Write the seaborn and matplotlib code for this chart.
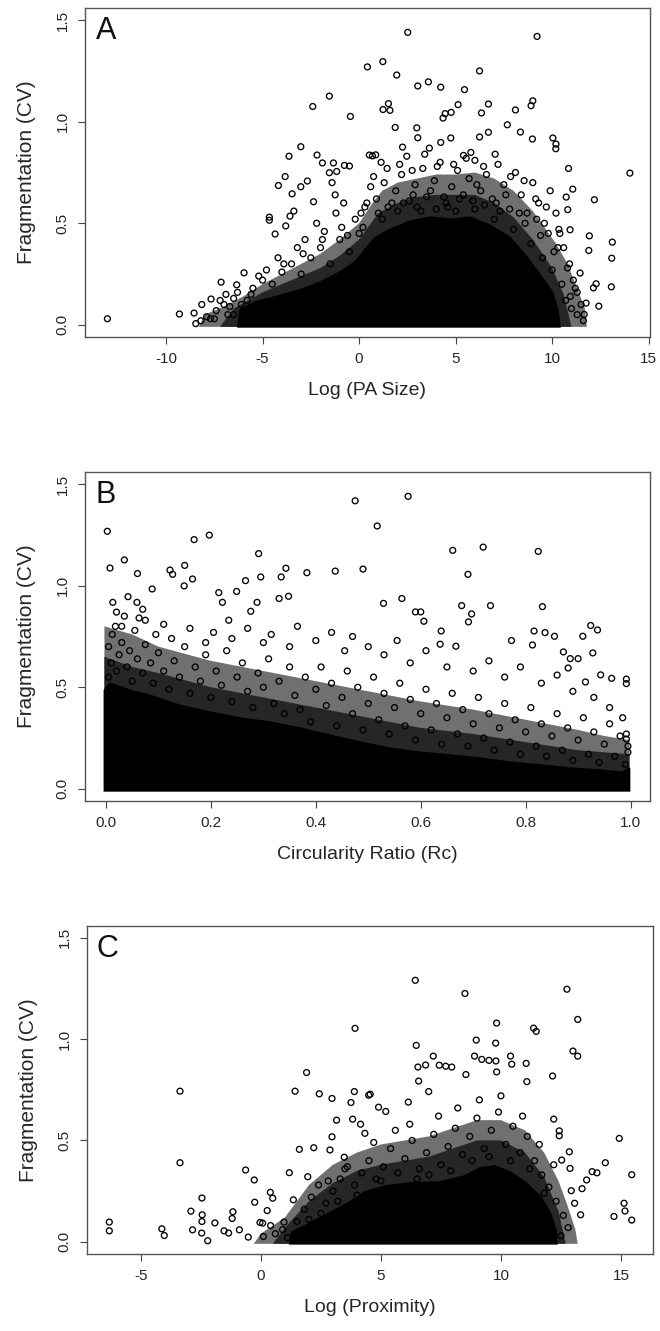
import numpy as np
import matplotlib
matplotlib.use("Agg")
import matplotlib.pyplot as plt
import seaborn as sns

sns.set_style("white")
plt.rcParams['font.family'] = ['Liberation Sans', 'DejaVu Sans']

# ---------------- panel A : Log (PA Size) ----------------
a_x = [-13.04, -9.31, -8.55, -8.46, -8.15, -7.67, -7.15, -6.34, -5.96, -4.65, -4.65, -4.35, -4.18, -3.83,
       -3.63, -3.80, -3.58, -3.47, -3.02, -3.02, -2.68, -2.40, -2.18, -1.90, -1.54, -1.33, -1.54, -1.16,
       -0.76, -0.50, -0.45, 0.43, 0.53, -1.40, -1.24, -2.36, -3.38,
       2.52, 9.22, 1.23, 1.95, 3.04, 3.59, 4.23, 5.46, 6.24, 1.24, 1.52, 1.60, 1.87, 2.99, 3.04, 4.35,
       4.46, 4.77, 5.13, 6.34, 6.70, 8.10, 7.68, 8.91, 9.00, 8.36, 8.98, 10.04, 10.20, 10.19, 10.85,
       11.07, 12.19, 14.03, 10.81, 10.73, 10.93, 11.93, 11.90, 13.12, 13.09, 13.07, 12.14, 12.28, 12.42,
       11.66, 11.62, 11.76, 11.45, 0.86, 0.69, 1.14, 0.40, 2.47, 2.25, 3.64, 4.23, 4.75, 5.41, 5.79,
       6.24, 6.70,
       0.9, 1.3, 1.5, 1.9, 2.2, 2.6, 2.9, 3.3, 3.5, 3.9, 4.2, 4.5, 4.8, 5.1, 5.4, 5.7, 6.0, 6.3, 6.6,
       6.9, 7.2, 7.5, 7.8, 8.1, 8.4, 8.7, 9.0, 9.3, 9.6, 9.9, 10.2, 10.4, 10.6, 10.9, 11.1, 11.3, 10.7,
       11.0, 1.2, 2.0, 3.0, 4.0, 5.0, 6.0, 7.0, 8.0, 8.9, 9.5, 10.0, 10.5,
       -5.5, -5.0, -4.5, -4.0, -3.5, -3.0, -2.5, -2.0, -1.5, -1.0, -0.5, 0.0, -7.0, -6.5, -6.8, -7.5,
       -5.8, -2.8, -2.2, -1.8, -1.2, -0.8, -0.2, 0.3, 0.6, -3.2, -4.2,
       -7.9, -7.4, -6.7, -6.5, -7.2, -6.9, -6.1, -5.6, -8.2, -7.7,
       1.7, 2.8, 3.7, 4.4, 5.2, 6.1, 7.1, 7.6, 8.3, 9.2, 9.8, 10.3, 0.2, -0.6, 1.0, 2.3, 3.2, 4.6,
       5.9, 6.5, 7.3, 8.6, 9.4, 10.1, 10.8, 11.2, 11.5, 11.3, 10.95,
       0.75, 1.45, 2.1, 2.75, 3.4, 4.05, 4.9, 5.55, 6.45, 7.05, 7.85, 8.55, 9.15, 9.7, 10.35,
       -4.8, -3.9, -2.9, -1.9, -0.9, 0.1, -6.3, -5.2]
a_y = [0.030, 0.053, 0.058, 0.006, 0.100, 0.127, 0.210, 0.197, 0.256, 0.530, 0.515, 0.447, 0.686, 0.730,
       0.830, 0.487, 0.535, 0.645, 0.877, 0.680, 0.708, 1.075, 0.836, 0.797, 1.126, 0.797, 0.749, 0.755,
       0.785, 0.782, 1.026, 1.270, 0.836, 0.700, 0.640, 0.606, 0.560,
       1.440, 1.420, 1.296, 1.230, 1.176, 1.196, 1.170, 1.158, 1.250, 1.060, 1.089, 1.056, 0.972, 0.970,
       0.921, 1.018, 1.040, 1.046, 1.084, 1.043, 1.087, 1.058, 0.985, 1.079, 1.103, 0.949, 0.915, 0.920,
       0.890, 0.867, 0.770, 0.668, 0.616, 0.747, 0.567, 0.629, 0.468, 0.438, 0.366, 0.407, 0.328, 0.187,
       0.182, 0.202, 0.092, 0.051, 0.021, 0.107, 0.255, 0.837, 0.832, 0.800, 0.600, 0.830, 0.875, 0.870,
       0.898, 0.920, 0.834, 0.849, 0.925, 0.948,
       0.62, 0.70, 0.58, 0.66, 0.74, 0.61, 0.69, 0.77, 0.63, 0.71, 0.80, 0.60, 0.68, 0.76, 0.64, 0.72,
       0.81, 0.66, 0.74, 0.62, 0.79, 0.69, 0.57, 0.75, 0.64, 0.55, 0.70, 0.60, 0.50, 0.66, 0.55, 0.45,
       0.38, 0.30, 0.22, 0.16, 0.12, 0.08, 0.52, 0.56, 0.58, 0.57, 0.56, 0.57, 0.52, 0.47, 0.40, 0.33,
       0.27, 0.20,
       0.18, 0.22, 0.20, 0.26, 0.30, 0.25, 0.33, 0.38, 0.30, 0.42, 0.36, 0.45, 0.10, 0.13, 0.05, 0.03,
       0.12, 0.42, 0.50, 0.46, 0.55, 0.60, 0.52, 0.58, 0.68, 0.38, 0.33,
       0.04, 0.07, 0.09, 0.05, 0.12, 0.15, 0.10, 0.15, 0.02, 0.03,
       0.60, 0.64, 0.66, 0.63, 0.62, 0.69, 0.60, 0.64, 0.55, 0.52, 0.45, 0.38, 0.48, 0.44, 0.55, 0.60,
       0.56, 0.58, 0.61, 0.59, 0.56, 0.50, 0.44, 0.36, 0.28, 0.18, 0.10, 0.05, 0.14,
       0.73, 0.77, 0.79, 0.76, 0.84, 0.78, 0.79, 0.82, 0.78, 0.84, 0.73, 0.71, 0.62, 0.58, 0.47,
       0.27, 0.30, 0.35, 0.42, 0.48, 0.55, 0.16, 0.24]
a_outer_x = [-8.3, -8.0, -7.0, -6.0, -5.0, -4.0, -3.0, -2.0, -1.0, 0.0, 0.7, 1.2, 2.0, 3.0, 4.0, 5.0,
             6.0, 7.0, 8.0, 9.0, 9.6, 10.2, 10.8, 11.3, 11.7, 11.8]
a_outer_y = [-0.01, 0.05, 0.09, 0.14, 0.20, 0.25, 0.30, 0.35, 0.42, 0.50, 0.60, 0.66, 0.70, 0.72, 0.74,
             0.74, 0.75, 0.72, 0.66, 0.56, 0.48, 0.40, 0.30, 0.18, 0.08, -0.01]
a_mid_x = [-7.2, -6.5, -5.0, -4.0, -3.0, -2.0, -1.0, 0.0, 1.0, 2.0, 3.0, 4.0, 5.0, 6.0, 7.0, 8.0, 9.0,
           10.0, 10.6, 11.0]
a_mid_y = [-0.01, 0.08, 0.16, 0.20, 0.24, 0.28, 0.34, 0.42, 0.55, 0.60, 0.63, 0.64, 0.64, 0.64, 0.60,
           0.53, 0.42, 0.28, 0.15, -0.01]
a_core_x = [-6.27, -6.17, -5.39, -4.35, -3.06, -2.02, -0.98, -0.21, 0.31, 0.83, 1.61, 2.64, 3.68, 4.72,
            5.75, 6.79, 7.82, 8.60, 9.38, 10.00, 10.30, 10.40]
a_core_y = [-0.01, 0.074, 0.113, 0.138, 0.172, 0.210, 0.260, 0.310, 0.370, 0.430, 0.470, 0.510, 0.530,
            0.520, 0.530, 0.490, 0.430, 0.345, 0.246, 0.163, 0.074, -0.01]

# ---------------- panel B : Circularity Ratio ----------------
b_x = [0.0025, 0.0076, 0.035, 0.060, 0.013, 0.042, 0.059, 0.070, 0.063, 0.088, 0.122, 0.127, 0.150,
       0.149, 0.165, 0.168, 0.197, 0.215, 0.222, 0.249, 0.266, 0.291, 0.295, 0.288, 0.276, 0.234, 0.334,
       0.343, 0.330, 0.348, 0.383, 0.437, 0.475, 0.490,
       0.576, 0.517, 0.661, 0.719, 0.824, 0.690, 0.678, 0.697, 0.691, 0.733, 0.832, 0.564, 0.590, 0.600,
       0.606, 0.529, 0.639, 0.637, 0.667, 0.773, 0.813, 0.816, 0.837, 0.855, 0.909, 0.924, 0.937, 0.872,
       0.885, 0.900, 0.881, 0.928, 0.914, 0.943, 0.964, 0.992, 0.992, 0.992, 0.992,
       0.005, 0.010, 0.005, 0.012, 0.020, 0.025, 0.030, 0.018, 0.040, 0.045, 0.050, 0.035, 0.060, 0.070,
       0.075, 0.085, 0.090, 0.100, 0.110, 0.120, 0.130, 0.140, 0.150, 0.160, 0.170, 0.180, 0.190, 0.200,
       0.210, 0.220, 0.230, 0.240, 0.250, 0.260, 0.270, 0.280, 0.290, 0.300, 0.310, 0.320, 0.330, 0.340,
       0.350, 0.360, 0.370, 0.380, 0.390, 0.400, 0.410, 0.420, 0.430, 0.440, 0.450, 0.460, 0.470, 0.480,
       0.490, 0.500, 0.510, 0.520, 0.530, 0.540, 0.550, 0.560, 0.570, 0.580, 0.590, 0.600, 0.610, 0.620,
       0.630, 0.640, 0.650, 0.660, 0.670, 0.680, 0.690, 0.700, 0.710, 0.720, 0.730, 0.740, 0.750, 0.760,
       0.770, 0.780, 0.790, 0.800, 0.810, 0.820, 0.830, 0.840, 0.850, 0.860, 0.870, 0.880, 0.890, 0.900,
       0.910, 0.920, 0.930, 0.940, 0.950, 0.960, 0.970, 0.980, 0.990, 0.995, 0.995,
       0.020, 0.030, 0.055, 0.075, 0.095, 0.110, 0.125, 0.160, 0.190, 0.205, 0.240, 0.270, 0.300, 0.315,
       0.350, 0.365, 0.400, 0.430, 0.455, 0.470, 0.500, 0.530, 0.555, 0.580, 0.610, 0.650, 0.700, 0.730,
       0.760, 0.790, 0.830, 0.860, 0.890, 0.930, 0.960, 0.985]
b_y = [1.268, 1.087, 1.127, 1.060, 0.918, 0.946, 0.918, 0.884, 0.841, 0.984, 1.077, 1.056, 1.100, 0.999,
       1.033, 1.227, 1.249, 0.966, 0.918, 0.972, 1.025, 1.158, 1.043, 0.918, 0.874, 0.830, 1.043, 1.086,
       0.937, 0.948, 1.064, 1.072, 1.418, 1.082,
       1.440, 1.294, 1.174, 1.190, 1.169, 1.056, 0.902, 0.861, 0.822, 0.902, 0.897, 0.937, 0.871, 0.871,
       0.825, 0.913, 0.777, 0.712, 0.702, 0.730, 0.708, 0.777, 0.769, 0.751, 0.751, 0.804, 0.782, 0.674,
       0.641, 0.641, 0.595, 0.669, 0.526, 0.561, 0.544, 0.540, 0.518, 0.270, 0.245,
       0.55, 0.62, 0.70, 0.76, 0.58, 0.66, 0.72, 0.80, 0.60, 0.68, 0.53, 0.85, 0.64, 0.57, 0.71, 0.62,
       0.52, 0.67, 0.58, 0.49, 0.63, 0.55, 0.70, 0.47, 0.60, 0.53, 0.66, 0.45, 0.58, 0.51, 0.68, 0.43,
       0.55, 0.62, 0.48, 0.40, 0.57, 0.50, 0.64, 0.42, 0.53, 0.37, 0.60, 0.46, 0.39, 0.55, 0.33, 0.49,
       0.60, 0.41, 0.52, 0.31, 0.45, 0.58, 0.37, 0.50, 0.29, 0.42, 0.55, 0.34, 0.47, 0.27, 0.40, 0.52,
       0.31, 0.44, 0.24, 0.37, 0.49, 0.29, 0.42, 0.22, 0.35, 0.47, 0.27, 0.39, 0.21, 0.32, 0.45, 0.25,
       0.37, 0.19, 0.30, 0.42, 0.23, 0.34, 0.17, 0.28, 0.40, 0.21, 0.32, 0.16, 0.26, 0.37, 0.19, 0.30,
       0.14, 0.24, 0.35, 0.17, 0.28, 0.13, 0.22, 0.32, 0.16, 0.26, 0.12, 0.18, 0.21,
       0.87, 0.80, 0.78, 0.83, 0.76, 0.81, 0.74, 0.79, 0.72, 0.77, 0.74, 0.79, 0.72, 0.76, 0.70, 0.80,
       0.73, 0.77, 0.68, 0.75, 0.70, 0.66, 0.73, 0.62, 0.68, 0.60, 0.58, 0.63, 0.55, 0.60, 0.52, 0.56,
       0.48, 0.45, 0.40, 0.35]
b_outer_x = [-0.003, -0.003, 0.05, 0.10, 0.20, 0.30, 0.40, 0.50, 0.60, 0.70, 0.80, 0.90, 0.95, 0.998,
             0.998]
b_outer_y = [-0.01, 0.80, 0.76, 0.70, 0.63, 0.58, 0.53, 0.48, 0.43, 0.39, 0.34, 0.29, 0.26, 0.24, -0.01]
b_mid_x = [-0.003, -0.003, 0.05, 0.10, 0.20, 0.30, 0.40, 0.50, 0.60, 0.70, 0.80, 0.90, 0.998, 0.998]
b_mid_y = [-0.01, 0.65, 0.60, 0.57, 0.50, 0.45, 0.40, 0.35, 0.30, 0.27, 0.23, 0.19, 0.17, -0.01]
b_core_x = [-0.003, -0.003, 0.008, 0.046, 0.084, 0.142, 0.199, 0.256, 0.313, 0.370, 0.427, 0.484, 0.541,
            0.598, 0.656, 0.713, 0.770, 0.827, 0.884, 0.941, 0.983, 0.998, 0.998]
b_core_y = [-0.01, 0.485, 0.520, 0.485, 0.460, 0.410, 0.377, 0.348, 0.328, 0.299, 0.264, 0.230, 0.200,
            0.180, 0.166, 0.151, 0.131, 0.117, 0.102, 0.092, 0.082, 0.102, -0.01]

# ---------------- panel C : Log (Proximity) ----------------
c_x = [-6.32, -6.32, -4.13, -4.03, -3.375, -3.375, -2.92, -2.46, -2.45, -2.46, -2.85, -2.47, -2.22,
       -1.92, -1.17, -1.20, -1.54, -1.35, -0.90, -0.53, -0.64, -0.28, -0.26, 0.39, 0.49, 0.26, -0.04,
       0.07, 0.10, 1.18, 1.42, 1.90, 2.43, 2.96, 3.89, 3.75, 3.92, 4.49, 3.15, 3.82, 4.15, 4.33, 2.96,
       2.875, 1.60, 2.20, 3.47, 1.95, 1.35, 0.96,
       6.43, 8.50, 12.75, 13.20, 13.00, 13.20, 9.82, 9.78, 8.97, 11.36, 11.47, 6.47, 12.15, 10.40, 10.45,
       11.05, 8.90, 9.20, 9.50, 9.79, 7.18, 6.86, 6.54, 7.43, 7.70, 7.95, 6.57, 8.54, 9.82, 11.08, 4.55,
       4.90, 5.20, 14.93, 15.45, 14.35, 13.80, 14.00, 13.38, 13.57, 12.88, 12.85, 12.53, 12.43, 12.43,
       12.20, 14.71, 15.13, 15.17, 15.45, 12.93, 13.07, 13.32, 6.99, 6.14,
       1.5, 1.8, 2.1, 2.4, 2.7, 3.0, 3.3, 3.6, 3.9, 4.2, 4.5, 4.8, 5.1, 5.4, 5.7, 6.0, 6.3, 6.6, 6.9,
       7.2, 7.5, 7.8, 8.1, 8.4, 8.7, 9.0, 9.3, 9.6, 9.9, 10.2, 10.5, 10.8, 11.1, 11.4, 11.7, 12.0, 12.3,
       12.6, 12.8, 12.5, 0.6, 0.9, 1.1, 0.4,
       5.0, 6.5, 7.0, 7.9, 8.8, 9.5, 10.4, 11.2, 11.8, 4.0, 3.2, 2.5, 2.0,
       5.6, 6.2, 7.4, 8.2, 9.1, 10.0, 10.9, 11.6, 12.2, 4.7, 3.5, 2.8]
c_y = [0.097, 0.054, 0.064, 0.031, 0.743, 0.390, 0.151, 0.216, 0.133, 0.100, 0.059, 0.043, 0.005, 0.093,
       0.148, 0.115, 0.054, 0.043, 0.059, 0.023, 0.354, 0.305, 0.195, 0.244, 0.215, 0.154, 0.095, 0.092,
       0.026, 0.341, 0.743, 0.835, 0.730, 0.707, 0.741, 0.687, 1.053, 0.723, 0.600, 0.605, 0.580, 0.535,
       0.518, 0.453, 0.456, 0.464, 0.417, 0.321, 0.207, 0.097,
       1.290, 1.225, 1.246, 1.097, 0.941, 0.916, 1.079, 0.980, 0.995, 1.054, 1.038, 0.969, 0.818, 0.916,
       0.876, 0.880, 0.916, 0.900, 0.895, 0.892, 0.916, 0.872, 0.862, 0.871, 0.866, 0.862, 0.793, 0.825,
       0.838, 0.790, 0.728, 0.664, 0.643, 0.510, 0.331, 0.390, 0.346, 0.340, 0.262, 0.305, 0.362, 0.444,
       0.403, 0.523, 0.547, 0.605, 0.125, 0.190, 0.152, 0.107, 0.252, 0.190, 0.133, 0.741, 0.689,
       0.10, 0.16, 0.22, 0.28, 0.19, 0.25, 0.31, 0.37, 0.28, 0.34, 0.40, 0.31, 0.37, 0.46, 0.34, 0.41,
       0.50, 0.36, 0.44, 0.53, 0.38, 0.47, 0.56, 0.43, 0.52, 0.61, 0.46, 0.55, 0.64, 0.48, 0.57, 0.44,
       0.52, 0.40, 0.33, 0.27, 0.20, 0.13, 0.07, 0.03, 0.04, 0.06, 0.02, 0.08,
       0.30, 0.31, 0.33, 0.35, 0.40, 0.42, 0.40, 0.36, 0.24, 0.23, 0.20, 0.14, 0.11,
       0.55, 0.58, 0.62, 0.66, 0.70, 0.72, 0.62, 0.48, 0.38, 0.49, 0.36, 0.30]
c_outer_x = [-0.3, 0.0, 1.0, 2.0, 3.0, 4.0, 5.0, 6.0, 7.0, 8.0, 9.0, 10.0, 11.0, 11.8, 12.4, 12.8, 13.1,
             13.2]
c_outer_y = [-0.01, 0.04, 0.12, 0.28, 0.38, 0.44, 0.48, 0.50, 0.52, 0.56, 0.60, 0.60, 0.55, 0.44, 0.30,
             0.17, 0.06, -0.01]
c_mid_x = [0.5, 1.0, 2.0, 3.0, 4.0, 5.0, 6.0, 7.0, 8.0, 9.0, 10.0, 11.0, 11.8, 12.4, 12.7]
c_mid_y = [-0.01, 0.07, 0.20, 0.29, 0.35, 0.38, 0.40, 0.42, 0.46, 0.50, 0.50, 0.44, 0.32, 0.15, -0.01]
c_core_x = [1.20, 1.29, 1.83, 2.46, 3.08, 3.71, 4.33, 5.17, 6.21, 7.46, 8.50, 9.12, 9.75, 10.38, 11.00,
            11.63, 12.04, 12.29, 12.33]
c_core_y = [-0.01, 0.049, 0.079, 0.118, 0.157, 0.197, 0.246, 0.275, 0.290, 0.295, 0.325, 0.364, 0.374,
            0.344, 0.295, 0.226, 0.148, 0.059, -0.01]

y_ticks = [0.0, 0.5, 1.0, 1.5]
y_labels = ["0.0", "0.5", "1.0", "1.5"]

panels = [
    ("A", a_x, a_y, (a_outer_x, a_outer_y), (a_mid_x, a_mid_y), (a_core_x, a_core_y),
     (-14.2, 15.07), [-10, -5, 0, 5, 10, 15], ["-10", "-5", "0", "5", "10", "15"],
     "Log (PA Size)", [0.1288, 0.7468, 0.856, 0.2472]),
    ("B", b_x, b_y, (b_outer_x, b_outer_y), (b_mid_x, b_mid_y), (b_core_x, b_core_y),
     (-0.04, 1.037), [0.0, 0.2, 0.4, 0.6, 0.8, 1.0], ["0.0", "0.2", "0.4", "0.6", "0.8", "1.0"],
     "Circularity Ratio (Rc)", [0.1288, 0.3982, 0.856, 0.2472]),
    ("C", c_x, c_y, (c_outer_x, c_outer_y), (c_mid_x, c_mid_y), (c_core_x, c_core_y),
     (-7.25, 16.32), [-5, 0, 5, 10, 15], ["-5", "0", "5", "10", "15"],
     "Log (Proximity)", [0.1318, 0.0579, 0.857, 0.2467]),
]

fig = plt.figure(figsize=(6.6, 13.31), dpi=100)
fig.patch.set_facecolor("white")

for letter, px, py, outer, mid, core, xlim, xt, xtl, xlab, rect in panels:
    ax = fig.add_axes(rect)
    # overlapping circles: fringe (grey), dense (dark grey), saturated (black)
    ax.fill(outer[0], outer[1], color="#707070", lw=0, zorder=1)
    ax.fill(mid[0], mid[1], color="#262626", lw=0, zorder=1)
    ax.fill(core[0], core[1], color="black", lw=1.2, zorder=1)
    sns.scatterplot(x=px, y=py, ax=ax, marker="o", s=18, facecolor="none",
                    edgecolor="black", linewidth=0.95, zorder=2)
    ax.set_xlim(*xlim)
    ax.set_ylim(-0.06, 1.56)
    ax.set_xticks(xt)
    ax.set_xticklabels(xtl, fontsize=11)
    ax.set_yticks(y_ticks)
    ax.set_yticklabels(y_labels, fontsize=11, rotation=90, va="center")
    ax.tick_params(direction="out", length=5, width=0.8, color="#444444", pad=6,
                   bottom=True, left=True)
    for sp in ax.spines.values():
        sp.set_color("#555555")
        sp.set_linewidth(1.0)
    ax.set_xlabel(xlab, fontsize=14)
    ax.set_ylabel("Fragmentation (CV)", fontsize=15)
    ax.xaxis.set_label_coords(0.5, -0.164)
    ax.xaxis.label.set_va("center")
    ax.yaxis.set_label_coords(-0.103, 0.5)
    ax.yaxis.label.set_va("center")
    ax.text(0.0366, 0.93, letter, transform=ax.transAxes, fontsize=22,
            ha="center", va="center", color="#111111")

fig.savefig("out.png", dpi=100)
